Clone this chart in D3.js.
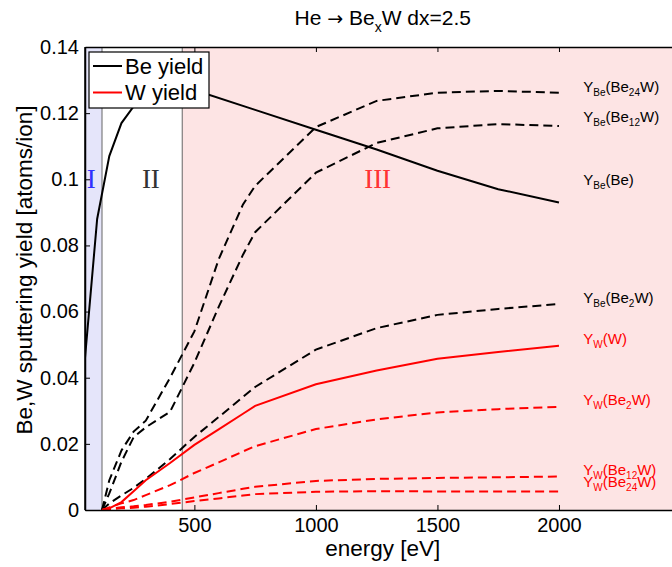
<!DOCTYPE html>
<html>
<head>
<meta charset="utf-8">
<script src="https://cdn.jsdelivr.net/npm/d3@7"></script>
<style>
  body { margin: 0; background: #fff; }
  svg { display: block; font-family: "Liberation Sans", Arial, Helvetica, sans-serif; }
</style>
</head>
<body>
<svg width="672" height="567"></svg>
<script>
// energies (eV)
const energyBe = [50, 100, 150, 200, 250, 300, 400, 500, 750, 1000, 1250, 1500, 1750, 2000];
const energyMix = [120, 150, 200, 250, 300, 400, 500, 600, 700, 750, 1000, 1250, 1500, 1750, 2000];

// yields (atoms/ion)
const beYield = [0.046, 0.088, 0.107, 0.117, 0.122, 0.125, 0.128, 0.127, 0.121, 0.115, 0.109, 0.1026, 0.097, 0.093];
const beBe24W = [0, 0.009, 0.018, 0.0237, 0.027, 0.040, 0.054, 0.0758, 0.0924, 0.098, 0.1158, 0.1237, 0.1262, 0.1267, 0.1262];
const beBe12W = [0, 0.005, 0.0146, 0.022, 0.025, 0.0297, 0.0445, 0.0614, 0.0772, 0.084, 0.102, 0.111, 0.1154, 0.1167, 0.1161];
const beBe2W  = [0, 0.002, 0.0044, 0.0067, 0.0094, 0.0154, 0.0221, 0.0281, 0.0342, 0.0372, 0.0485, 0.055, 0.059, 0.0608, 0.0623];
const wYield  = [0, 0.0005, 0.0024, 0.0057, 0.009, 0.0142, 0.0197, 0.0244, 0.0291, 0.0315, 0.038, 0.0422, 0.0457, 0.0478, 0.0497];
const wBe2W   = [0, 0.0008, 0.002, 0.003, 0.0045, 0.0075, 0.0112, 0.0144, 0.0177, 0.0193, 0.0245, 0.0274, 0.0295, 0.0305, 0.0312];
const wBe12W  = [0, 0.0003, 0.0008, 0.0011, 0.0015, 0.0025, 0.0038, 0.0051, 0.0064, 0.007, 0.0088, 0.0094, 0.0097, 0.0099, 0.0101];
const wBe24W  = [0, 0.0002, 0.0005, 0.0007, 0.001, 0.0018, 0.0027, 0.0035, 0.0044, 0.0048, 0.0055, 0.0057, 0.0056, 0.0056, 0.0056];

// curve labels: [normal, sub, normal, sub, normal]
const labelParts = [
  ["Y", "Be", "(Be", "24", "W)"],
  ["Y", "Be", "(Be", "12", "W)"],
  ["Y", "Be", "(Be)"],
  ["Y", "Be", "(Be", "2", "W)"],
  ["Y", "W", "(W)"],
  ["Y", "W", "(Be", "2", "W)"],
  ["Y", "W", "(Be", "12", "W)"],
  ["Y", "W", "(Be", "24", "W)"]
];
const labelValues = [0.1264, 0.1173, 0.0983, 0.0626, 0.0502, 0.0318, 0.0106, 0.0070];
const labelEnergy = 2100;

// regions
const regionBounds = [50, 120, 450, 2500];
const regionNames = ["I", "II", "III"];
const regionLabelEnergy = [76, 321, 1254];

const xTicks = [500, 1000, 1500, 2000];
const yTicks = [0, 0.02, 0.04, 0.06, 0.08, 0.1, 0.12, 0.14];
const yTickLabels = ["0", "0.02", "0.04", "0.06", "0.08", "0.1", "0.12", "0.14"];

const svg = d3.select("svg");
const pLeft = 85, pRight = 680.5, pTop = 47, pBottom = 510;

const x = d3.scaleLinear().domain([50, 2500]).range([pLeft, pRight]);
const y = d3.scaleLinear().domain([0, 0.14]).range([pBottom, pTop]);

svg.append("defs").append("clipPath").attr("id", "plot")
  .append("rect").attr("x", pLeft).attr("y", pTop)
  .attr("width", pRight - pLeft).attr("height", pBottom - pTop);

// background regions
const regionFill = ["#e5e5fa", "#ffffff", "#fde4e4"];
const regionText = ["#3030ff", "#333333", "#ff3333"];
svg.selectAll(".region").data(regionNames).enter().append("rect")
  .attr("x", (d, i) => x(regionBounds[i]))
  .attr("y", pTop)
  .attr("width", (d, i) => x(regionBounds[i + 1]) - x(regionBounds[i]))
  .attr("height", pBottom - pTop)
  .attr("fill", (d, i) => regionFill[i]);

svg.selectAll(".bound").data(regionBounds.slice(1, 3)).enter().append("line")
  .attr("x1", d => x(d)).attr("x2", d => x(d))
  .attr("y1", pTop).attr("y2", pBottom)
  .attr("stroke", "#666").attr("stroke-width", 1);

svg.selectAll(".rname").data(regionNames).enter().append("text")
  .attr("x", (d, i) => x(regionLabelEnergy[i]))
  .attr("y", y(0.0975))
  .attr("text-anchor", "middle")
  .attr("font-family", "'Liberation Serif', 'Times New Roman', serif")
  .attr("font-size", 27)
  .attr("fill", (d, i) => regionText[i])
  .text(d => d);

// curves
const series = [
  { e: energyBe, v: beYield, color: "#000", dash: null },
  { e: energyMix, v: beBe24W, color: "#000", dash: "9,5" },
  { e: energyMix, v: beBe12W, color: "#000", dash: "9,5" },
  { e: energyMix, v: beBe2W, color: "#000", dash: "9,5" },
  { e: energyMix, v: wYield, color: "#ff0000", dash: null },
  { e: energyMix, v: wBe2W, color: "#ff0000", dash: "9,5" },
  { e: energyMix, v: wBe12W, color: "#ff0000", dash: "9,5" },
  { e: energyMix, v: wBe24W, color: "#ff0000", dash: "9,5" }
];

const line = d3.line().x(d => x(d[0])).y(d => y(d[1]));
const plot = svg.append("g").attr("clip-path", "url(#plot)");
series.forEach(s => {
  plot.append("path")
    .datum(d3.zip(s.e, s.v))
    .attr("d", line)
    .attr("fill", "none")
    .attr("stroke", s.color)
    .attr("stroke-width", 2)
    .attr("stroke-dasharray", s.dash);
});

// curve labels
const labelColor = ["#000", "#000", "#000", "#000", "#f00", "#f00", "#f00", "#f00"];
labelParts.forEach((parts, i) => {
  const t = svg.append("text")
    .attr("x", x(labelEnergy))
    .attr("y", y(labelValues[i]))
    .attr("fill", labelColor[i])
    .attr("font-size", 15);
  parts.forEach((p, j) => {
    const sub = j % 2 === 1;
    t.append("tspan")
      .attr("font-size", sub ? 10 : 15)
      .attr("dy", j === 0 ? 0 : (sub ? 4 : -4))
      .text(p);
  });
});

// axes
const gx = svg.append("g").attr("transform", `translate(0,${pBottom})`)
  .call(d3.axisBottom(x).tickValues(xTicks).tickSize(-5).tickSizeOuter(0).tickPadding(8)
    .tickFormat(d3.format("d")));
const gxTop = svg.append("g").attr("transform", `translate(0,${pTop})`)
  .call(d3.axisTop(x).tickValues(xTicks).tickSize(-5).tickSizeOuter(0).tickFormat(""));
const gy = svg.append("g").attr("transform", `translate(${pLeft},0)`)
  .call(d3.axisLeft(y).tickValues(yTicks).tickSize(-5).tickSizeOuter(0).tickPadding(6)
    .tickFormat((d, i) => yTickLabels[i]));

[gx, gxTop, gy].forEach(g => {
  g.selectAll("text").attr("font-size", 20).attr("font-family", null).attr("fill", "#000");
  g.selectAll("line").attr("stroke", "#000");
  g.select(".domain").attr("stroke", "#000").attr("stroke-width", 1.5);
});

// frame
svg.append("line").attr("x1", pLeft).attr("x2", pLeft).attr("y1", pTop).attr("y2", pBottom)
  .attr("stroke", "#000").attr("stroke-width", 1.5);

// legend
const legend = svg.append("g");
legend.append("rect").attr("x", 89).attr("y", 52).attr("width", 120).attr("height", 56)
  .attr("fill", "#fff").attr("stroke", "#000").attr("stroke-width", 1.2);
const legendNames = ["Be yield", "W yield"];
const legendColors = ["#000", "#ff0000"];
legendNames.forEach((n, i) => {
  const yy = 66 + i * 26.5;
  legend.append("line").attr("x1", 93).attr("x2", 122).attr("y1", yy).attr("y2", yy)
    .attr("stroke", legendColors[i]).attr("stroke-width", 2);
  legend.append("text").attr("x", 125).attr("y", yy + 7.5).attr("font-size", 22).text(n);
});

// title
const title = svg.append("text").attr("x", (pLeft + pRight) / 2).attr("y", 25)
  .attr("text-anchor", "middle").attr("font-size", 21);
title.append("tspan").text("He ");
title.append("tspan").attr("font-family", "'DejaVu Sans', sans-serif").attr("font-size", 19).text("\u2192");
title.append("tspan").text(" Be");
title.append("tspan").attr("font-size", 14).attr("dy", 7).text("x");
title.append("tspan").attr("dy", -7).text("W dx=2.5");

// axis labels
svg.append("text").attr("x", (pLeft + pRight) / 2).attr("y", 556)
  .attr("text-anchor", "middle").attr("font-size", 22.5).text("energy [eV]");
svg.append("text")
  .attr("transform", `translate(32,270) rotate(-90)`)
  .attr("text-anchor", "middle").attr("font-size", 22.5)
  .text("Be,W sputtering yield [atoms/ion]");
</script>
</body>
</html>
